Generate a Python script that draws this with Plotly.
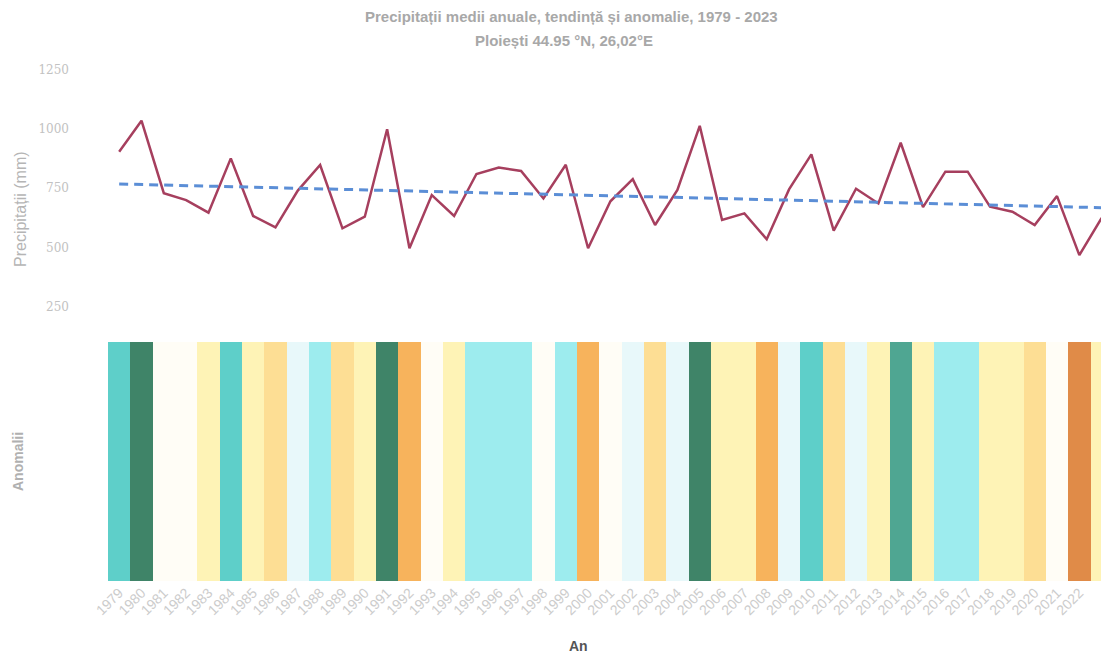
import plotly.graph_objects as go
import numpy as np

# ---------------- data ----------------
years = list(range(1979, 2024))
precip = [904, 1035, 729, 700, 647, 876, 633, 585, 740, 848,
          581, 630, 999, 497, 721, 633, 810, 837, 823, 707,
          849, 497, 695, 788, 595, 743, 1013, 616, 644, 535,
          745, 893, 571, 748, 686, 942, 670, 820, 820, 672,
          651, 595, 717, 468, 625]
trend_years = [1979, 2023]
trend_values = [768, 668]
y_ticks = [250, 500, 750, 1000, 1250]
year_labels = [str(y) for y in years]

title_line1 = "Precipitații medii anuale, tendință și anomalie, 1979 - 2023"
title_line2 = "Ploiești 44.95 °N, 26,02°E"

# ---------------- styling ----------------
W, H = 1101, 655
L = 108

mean_p = float(np.mean(precip))
anomalies = [p - mean_p for p in precip]

zmin, zmax = -300.0, 350.0
bounds = [-300, -235, -165, -110, -30, 15, 75, 140, 200, 250, 350]
colors = ["#E08B48", "#F7B35C", "#FDDE94", "#FEF3B6", "#FFFDF6",
          "#E8F8FA", "#9DECEE", "#5ECFC9", "#4FA692", "#3F8468"]
cs = []
for i, c in enumerate(colors):
    a = (bounds[i] - zmin) / (zmax - zmin)
    b = (bounds[i + 1] - zmin) / (zmax - zmin)
    cs.append([a, c])
    cs.append([b, c])

def px_x(px):
    return (px - L) / (W - L)

def px_y(py):
    return (H - py) / H

fig = go.Figure()
fig.add_trace(go.Heatmap(
    x=years, y=[0], z=[anomalies], xaxis="x2", yaxis="y2",
    colorscale=cs, zmin=zmin, zmax=zmax, showscale=False, hoverinfo="skip"))
fig.add_trace(go.Scatter(
    x=years, y=precip, mode="lines", xaxis="x", yaxis="y",
    line=dict(color="#A63F5E", width=2.5), showlegend=False))
fig.add_trace(go.Scatter(
    x=trend_years, y=trend_values, mode="lines", xaxis="x", yaxis="y",
    line=dict(color="#5B8ED6", width=3, dash="9px,6px"), showlegend=False))

xrange = [1978.5, 2022.97]
fig.update_layout(
    width=W, height=H,
    margin=dict(l=L, r=0, t=0, b=0, autoexpand=False),
    paper_bgcolor="white", plot_bgcolor="white",
    font=dict(family="Liberation Sans, Arial, sans-serif"),
    showlegend=False,
    xaxis=dict(domain=[0, 1], range=xrange, anchor="y", visible=False,
               automargin=False),
    yaxis=dict(domain=[px_y(335), px_y(55)], range=[131, 1312],
               tickvals=y_ticks, showgrid=False, zeroline=False,
               showline=False, ticks="", ticklabelstandoff=38,
               automargin=False,
               tickfont=dict(size=12, color="#C2C2C2",
                             family="DejaVu Serif, serif")),
    xaxis2=dict(domain=[0, 1], range=xrange, anchor="y2",
                tickvals=years, ticktext=year_labels, tickangle=-45,
                showgrid=False, zeroline=False, showline=False, ticks="",
                automargin=False,
                tickfont=dict(size=14, color="#CCCCCC")),
    yaxis2=dict(domain=[px_y(581), px_y(342)], range=[-0.5, 0.5],
                visible=False, automargin=False),
    annotations=[
        dict(text="<b>" + title_line1 + "</b>", x=px_x(571), y=px_y(17),
             xref="paper", yref="paper", showarrow=False,
             xanchor="center", yanchor="middle",
             font=dict(size=15, color="#A8A8A8")),
        dict(text="<b>" + title_line2 + "</b>", x=px_x(564), y=px_y(41),
             xref="paper", yref="paper", showarrow=False,
             xanchor="center", yanchor="middle",
             font=dict(size=15, color="#A8A8A8")),
        dict(text="Precipitații (mm)", x=px_x(20), y=px_y(209),
             xref="paper", yref="paper", showarrow=False, textangle=-90,
             xanchor="center", yanchor="middle",
             font=dict(size=16, color="#B5B5B5")),
        dict(text="<b>Anomalii</b>", x=px_x(18), y=px_y(462),
             xref="paper", yref="paper", showarrow=False, textangle=-90,
             xanchor="center", yanchor="middle",
             font=dict(size=14, color="#B0B0B0")),
        dict(text="<b>An</b>", x=px_x(578), y=px_y(646),
             xref="paper", yref="paper", showarrow=False,
             xanchor="center", yanchor="middle",
             font=dict(size=14, color="#555555")),
    ],
)

fig.write_html(
    "out.html",
    config={"displayModeBar": False},
    post_script="document.body.style.margin='0';"
                "document.body.style.overflow='hidden';")
